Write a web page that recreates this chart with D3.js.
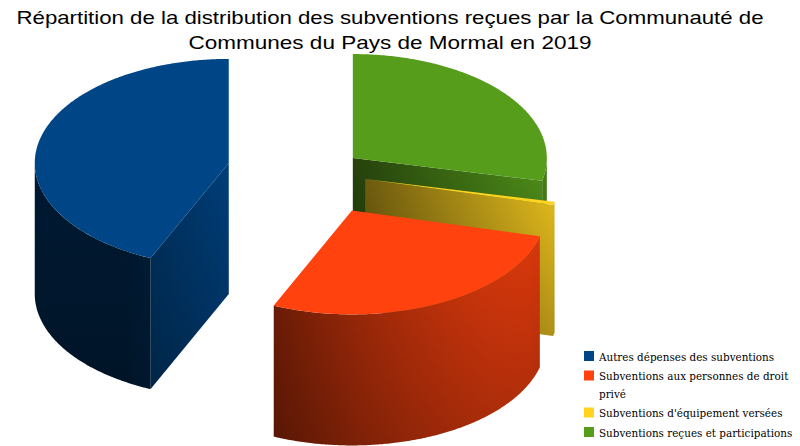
<!DOCTYPE html>
<html>
<head>
<meta charset="utf-8">
<script src="https://cdn.jsdelivr.net/npm/d3@7"></script>
<style>
  html, body { margin: 0; padding: 0; background: #fff; }
  svg { display: block; }
</style>
</head>
<body>
<div id="chart"></div>
<script>
// données (parts en %)
const titleLines = [
  "Répartition de la distribution des subventions reçues par la Communauté de",
  "Communes du Pays de Mormal en 2019"
];
const categories = [
  "Autres dépenses des subventions",
  "Subventions aux personnes de droit privé",
  "Subventions d'équipement versées",
  "Subventions reçues et participations"
];
const shares = [43.4, 27.6, 0.5, 28.5];

// style
const colors  = ["#004586", "#ff420e", "#ffd320", "#579d1c"];
const explode = [0.47, 0.40, 0.25, 0.23];
const titleWidths = [747, 403];

const width = 800, height = 446;
const cx = 318, cy = 173;      // centre du camembert (vue)
const rx = 194, ry = 104;      // ellipse de la face supérieure
const depth = 131;             // épaisseur

const svg = d3.select("#chart").append("svg")
  .attr("width", width).attr("height", height)
  .attr("viewBox", [0, 0, width, height]);

const defs = svg.append("defs");
const vshade = defs.append("linearGradient")
  .attr("id", "vshade").attr("x1", 0).attr("y1", 0).attr("x2", 0).attr("y2", 1);
vshade.append("stop").attr("offset", 0).attr("stop-color", "#000").attr("stop-opacity", 0);
vshade.append("stop").attr("offset", 1).attr("stop-color", "#000").attr("stop-opacity", 0.24);

// 1) Titre
svg.append("g").selectAll("text")
  .data(titleLines)
  .join("text")
  .attr("x", 390)
  .attr("y", (d, i) => 24 + i * 25)
  .attr("text-anchor", "middle")
  .attr("font-family", "'Liberation Sans', Arial, sans-serif")
  .attr("font-size", 18.5)
  .attr("textLength", (d, i) => titleWidths[i])
  .attr("lengthAdjust", "spacingAndGlyphs")
  .attr("fill", "#000")
  .text(d => d);

// 2) Angles (sens anti-horaire depuis midi, comme LibreOffice)
const arcs = d3.pie().sort(null).value(d => d)
  .startAngle(0).endAngle(2 * Math.PI)(shares);

const shade = (hex, s) => {
  const c = d3.rgb(hex);
  return d3.rgb(c.r * s, c.g * s, c.b * s).formatHex();
};
const sideLight = a => 0.38 + 0.5 * Math.max(0, -0.8 * Math.sin(a) - 0.5 * Math.cos(a));

const line = d3.line();
const slices = arcs.map((d, i) => {
  const m = (d.startAngle + d.endAngle) / 2;
  const ox = cx - explode[i] * rx * Math.sin(m);
  const oy = cy - explode[i] * ry * Math.cos(m);
  const rim = (a, dy = 0) => [ox - rx * Math.sin(a), oy - ry * Math.cos(a) + dy];
  return { d, i, ox, oy, rim };
});

const sampleArc = (a0, a1, dy, rim) => {
  const n = Math.max(2, Math.ceil(Math.abs(a1 - a0) / 0.01));
  return d3.range(n + 1).map(k => rim(a0 + (a1 - a0) * k / n, dy));
};

const pieG = svg.append("g");

// peintre : des parts du fond vers l'avant
slices.slice().sort((a, b) => a.oy - b.oy).forEach(s => {
  const { d, i, ox, oy, rim } = s;
  const a0 = d.startAngle, a1 = d.endAngle;
  const g = pieG.append("g").attr("class", "slice");
  const base = colors[i];

  // faces radiales visibles
  const radial = [];
  if (Math.sin(a0) < -1e-6) radial.push(a0);
  if (Math.sin(a1) > 1e-6) radial.push(a1);
  radial.forEach((a, j) => {
    const p = rim(a);
    const pts = [[ox, oy], p, [p[0], p[1] + depth], [ox, oy + depth]];
    const xL = Math.min(ox, p[0]), xR = Math.max(ox, p[0]);
    const kLeft = Math.max(0.45, 1 - 0.0028 * (xR - xL));
    const gid = `rad${i}_${j}`;
    const gr = defs.append("linearGradient").attr("id", gid)
      .attr("gradientUnits", "userSpaceOnUse")
      .attr("x1", xL).attr("y1", 0).attr("x2", xR).attr("y2", 0);
    gr.append("stop").attr("offset", 0).attr("stop-color", shade(base, 0.9 * kLeft));
    gr.append("stop").attr("offset", 1).attr("stop-color", shade(base, 0.9));
    g.append("path").attr("d", line(pts) + "Z").attr("fill", `url(#${gid})`);
    g.append("path").attr("d", line(pts) + "Z").attr("fill", "url(#vshade)");
  });

  // face extérieure (partie avant seulement), dégradé selon l'angle
  const b0 = Math.max(a0, Math.PI / 2), b1 = Math.min(a1, 3 * Math.PI / 2);
  if (b1 > b0) {
    const x1 = rim(b0)[0], x2 = rim(b1)[0];
    const gid = `side${i}`;
    const gr = defs.append("linearGradient").attr("id", gid)
      .attr("gradientUnits", "userSpaceOnUse")
      .attr("x1", x1).attr("y1", 0).attr("x2", x2).attr("y2", 0);
    const n = 24;
    gr.selectAll("stop")
      .data(d3.range(n + 1).map(k => b0 + (b1 - b0) * k / n))
      .join("stop")
      .attr("offset", t => (rim(t)[0] - x1) / (x2 - x1 || 1))
      .attr("stop-color", t => shade(base, sideLight(t)));
    const outline = sampleArc(b0, b1, 0, rim).concat(sampleArc(b1, b0, depth, rim));
    g.append("path").attr("d", line(outline) + "Z").attr("fill", `url(#${gid})`);
    g.append("path").attr("d", line(outline) + "Z").attr("fill", "url(#vshade)");
  }

  // face supérieure
  const top = [[ox, oy]].concat(sampleArc(a0, a1, 0, rim));
  g.append("path").attr("d", line(top) + "Z").attr("fill", base);
});

// 3) Légende
const legend = svg.append("g").attr("class", "legend");
let ly = 351;
const maxW = 201;
categories.forEach((label, i) => {
  const row = legend.append("g");
  row.append("rect")
    .attr("x", 584).attr("y", ly).attr("width", 10).attr("height", 10)
    .attr("fill", colors[i]);
  const txt = row.append("text")
    .attr("x", 599).attr("y", ly + 9.5)
    .attr("font-family", "'DejaVu Serif', 'Liberation Serif', serif")
    .attr("font-size", 10.4)
    .attr("fill", "#000");
  // retour à la ligne si trop long
  const words = label.split(" ");
  let lineWords = [], lines = 0;
  let tspan = txt.append("tspan").attr("x", 599).attr("dy", 0);
  words.forEach(w => {
    lineWords.push(w);
    tspan.text(lineWords.join(" "));
    if (tspan.node().getComputedTextLength() > maxW && lineWords.length > 1) {
      lineWords.pop();
      tspan.text(lineWords.join(" "));
      lineWords = [w];
      lines++;
      tspan = txt.append("tspan").attr("x", 599).attr("dy", 17.5).text(w);
    }
  });
  ly += (lines + 1) * 17.5 + 2;
});
</script>
</body>
</html>
